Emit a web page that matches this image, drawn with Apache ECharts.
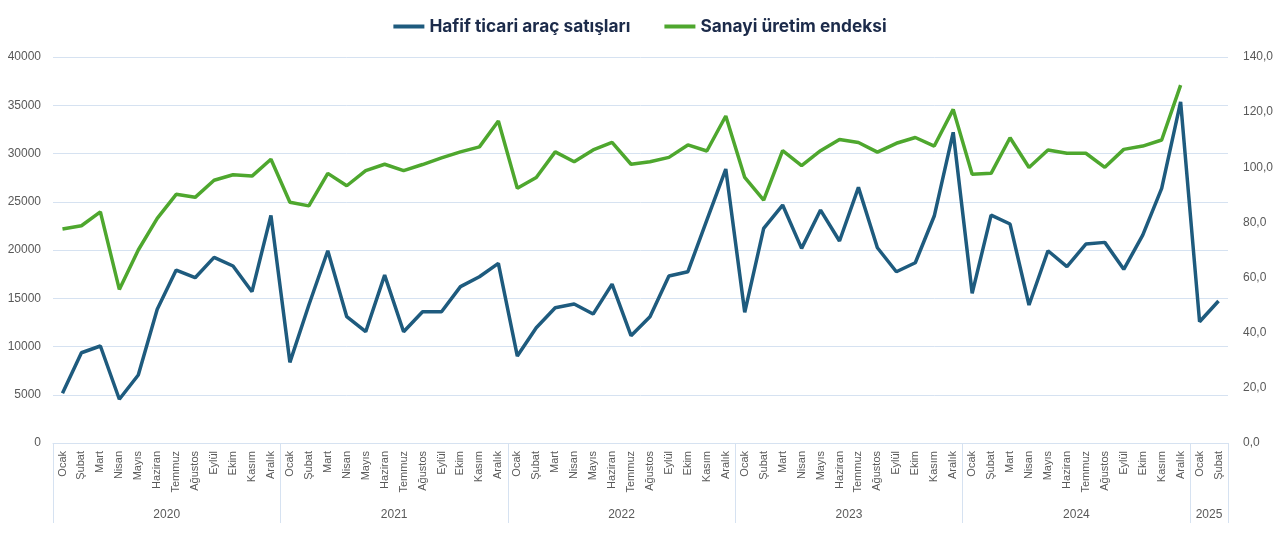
<!DOCTYPE html>
<html>
<head>
<meta charset="utf-8">
<script src="https://cdn.jsdelivr.net/npm/echarts@6/dist/echarts.min.js"></script>
<style>
html,body{margin:0;padding:0;background:#fff;}
#chart{width:1280px;height:535px;}
</style>
</head>
<body>
<div id="chart"></div>
<script>
var monthNames = ['Ocak','Şubat','Mart','Nisan','Mayıs','Haziran','Temmuz','Ağustos','Eylül','Ekim','Kasım','Aralık'];
var years = ['2020','2021','2022','2023','2024','2025'];
var monthsPerYear = [12,12,12,12,12,2];

var salesName = 'Hafif ticari araç satışları';
var indexName = 'Sanayi üretim endeksi';

var sales = [
  5150, 9350, 10050, 4530, 7050, 13850, 17920, 17130, 19240, 18340, 15680, 23590,
  8360, 14300, 19920, 13090, 11530, 17400, 11530, 13600, 13600, 16200, 17230, 18620,
  9010, 11950, 14020, 14400, 13360, 16470, 11120, 13090, 17300, 17750, 23100, 28390,
  13540, 22240, 24660, 20170, 24140, 20930, 26490, 20230, 17750, 18680, 23520, 32200,
  15510, 23620, 22690, 14300, 19920, 18270, 20620, 20790, 18000, 21550, 26390, 35360,
  12570, 14710
];

var production = [
  77.6, 78.8, 83.8, 55.7, 70.0, 81.5, 90.2, 89.1, 95.3, 97.3, 96.8, 102.9,
  87.3, 86.0, 97.8, 93.3, 98.8, 101.1, 98.8, 101.0, 103.4, 105.6, 107.4, 116.8,
  92.4, 96.3, 105.6, 102.0, 106.3, 109.0, 101.1, 102.0, 103.6, 108.1, 105.9, 118.6,
  96.3, 88.1, 106.0, 100.6, 106.0, 110.1, 109.0, 105.5, 108.7, 110.8, 107.7, 121.0,
  97.5, 97.8, 110.7, 99.9, 106.3, 105.1, 105.1, 100.0, 106.5, 107.7, 109.9, 129.8,
  null, null
];

// build category labels and year boundaries
var categories = [];
var yearBounds = [0];
var yearCenters = [];
var pos = 0;
for (var y = 0; y < years.length; y++) {
  for (var m = 0; m < monthsPerYear[y]; m++) categories.push(monthNames[m]);
  yearCenters.push(pos + monthsPerYear[y] / 2);
  pos += monthsPerYear[y];
  yearBounds.push(pos);
}

var gridColor = '#d6e2f1';
var labelColor = '#595959';

var chart = echarts.init(document.getElementById('chart'), null, {renderer: 'canvas'});
chart.setOption({
  animation: false,
  backgroundColor: '#ffffff',
  legend: {
    top: 13,
    left: 'center',
    icon: 'rect',
    itemWidth: 31,
    itemHeight: 4,
    itemGap: 34,
    textStyle: {fontSize: 17.3, fontWeight: 'bold', color: '#1c2b4a', fontFamily: 'Inter'},
    data: [salesName, indexName]
  },
  grid: {left: 53, right: 52, top: 57, bottom: 92, containLabel: false},
  xAxis: [
    {
      type: 'category',
      data: categories,
      boundaryGap: true,
      axisLine: {show: true, lineStyle: {color: gridColor}},
      axisTick: {show: false},
      axisLabel: {interval: 0, rotate: 90, fontSize: 11, color: labelColor, margin: 8, fontFamily: 'Liberation Sans'}
    },
    {
      type: 'value',
      position: 'bottom',
      min: 0,
      max: pos,
      axisLine: {show: false},
      splitLine: {show: false},
      axisTick: {show: true, length: 80, customValues: yearBounds, lineStyle: {color: gridColor}},
      axisLabel: {
        customValues: yearCenters,
        margin: 66,
        fontSize: 12,
        color: labelColor,
        fontFamily: 'Liberation Sans',
        formatter: function (v) {
          var i = yearCenters.indexOf(v);
          return i >= 0 ? years[i] : '';
        }
      }
    }
  ],
  yAxis: [
    {
      type: 'value',
      min: 0, max: 40000, interval: 5000,
      axisLine: {show: false},
      axisTick: {show: false},
      splitLine: {show: true, lineStyle: {color: gridColor}},
      axisLabel: {
        fontSize: 12, color: labelColor, margin: 12, fontFamily: 'Liberation Sans',
        formatter: function (v) { return String(v); }
      }
    },
    {
      type: 'value',
      min: 0, max: 140, interval: 20,
      position: 'right',
      axisLine: {show: false},
      axisTick: {show: false},
      splitLine: {show: false},
      axisLabel: {
        fontSize: 12, color: labelColor, margin: 15, fontFamily: 'Liberation Sans',
        formatter: function (v) { return v.toFixed(1).replace('.', ','); }
      }
    }
  ],
  series: [
    {
      name: salesName,
      type: 'line',
      xAxisIndex: 0,
      yAxisIndex: 0,
      data: sales,
      symbol: 'none',
      lineStyle: {width: 3.5, color: '#1e5b7e'},
      itemStyle: {color: '#1e5b7e'}
    },
    {
      name: indexName,
      type: 'line',
      xAxisIndex: 0,
      yAxisIndex: 1,
      data: production,
      symbol: 'none',
      connectNulls: false,
      lineStyle: {width: 3.5, color: '#4ea72e'},
      itemStyle: {color: '#4ea72e'}
    }
  ]
});
</script>
</body>
</html>
